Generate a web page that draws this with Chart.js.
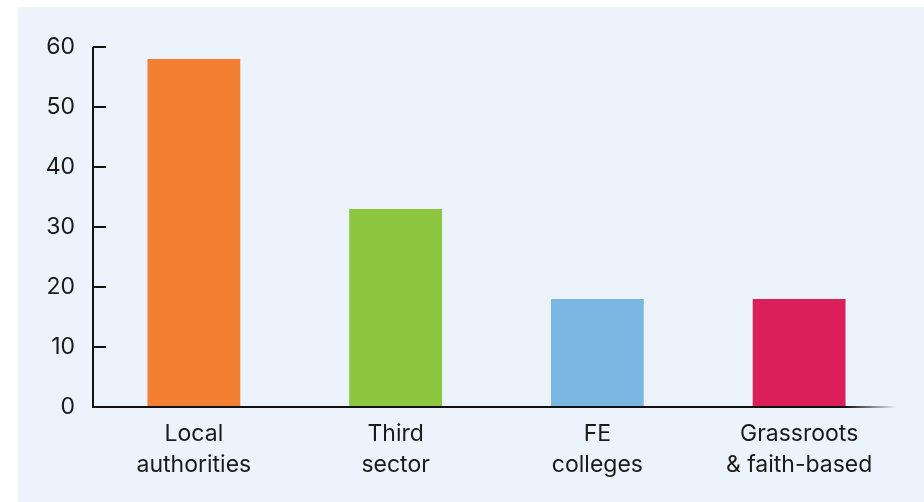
<!DOCTYPE html>
<html>
<head>
<meta charset="utf-8">
<script src="https://cdn.jsdelivr.net/npm/chart.js@4/dist/chart.umd.min.js"></script>
<style>
  html, body { margin: 0; padding: 0; background: #ffffff; }
  #wrap { width: 924px; height: 502px; }
</style>
</head>
<body>
<div id="wrap"><canvas id="chart" width="924" height="502"></canvas></div>
<script>
const categories = [["Local", "authorities"], ["Third", "sector"], ["FE", "colleges"], ["Grassroots", "& faith-based"]];
const values = [58, 33, 18, 18];
const barColors = ["#f37f33", "#8dc63f", "#7ab7e3", "#db1f5b"];
const yTicks = [0, 10, 20, 30, 40, 50, 60];

const panelBg = {
    id: "panelBg",
    beforeDraw(chart) {
        const ctx = chart.ctx;
        ctx.save();
        ctx.fillStyle = "#edf3fb";
        ctx.fillRect(18, 7, chart.width - 18, chart.height - 7);
        ctx.restore();
    }
};

// axis lines with inward ticks, x axis fading out at the right
const axes = {
    id: "axes",
    afterDatasetsDraw(chart) {
        const ctx = chart.ctx;
        const y = chart.scales.y;
        const area = chart.chartArea;
        const x0 = area.left;
        const yZero = y.getPixelForValue(0);
        ctx.save();
        ctx.lineWidth = 2;
        ctx.strokeStyle = "#111111";
        ctx.beginPath();
        ctx.moveTo(x0, y.getPixelForValue(60));
        ctx.lineTo(x0, yZero + 1);
        ctx.stroke();
        yTicks.forEach(v => {
            const py = y.getPixelForValue(v);
            ctx.beginPath();
            ctx.moveTo(x0, py);
            ctx.lineTo(x0 + 13, py);
            ctx.stroke();
        });
        const grad = ctx.createLinearGradient(846, 0, 897, 0);
        grad.addColorStop(0, "rgba(17,17,17,1)");
        grad.addColorStop(1, "rgba(17,17,17,0)");
        ctx.strokeStyle = grad;
        ctx.beginPath();
        ctx.moveTo(x0, yZero);
        ctx.lineTo(897, yZero);
        ctx.stroke();
        ctx.restore();
    }
};

new Chart(document.getElementById("chart").getContext("2d"), {
    type: "bar",
    data: {
        labels: categories,
        datasets: [{
            data: values,
            backgroundColor: barColors,
            borderWidth: 0,
            barPercentage: 0.46,
            categoryPercentage: 1
        }]
    },
    options: {
        responsive: false,
        animation: false,
        layout: { padding: { left: 0, right: 24, top: 47, bottom: 0 } },
        plugins: { legend: { display: false }, tooltip: { enabled: false } },
        scales: {
            x: {
                grid: { display: false },
                border: { display: false },
                ticks: {
                    color: "#1a1a1a",
                    font: { family: "Inter", size: 23, lineHeight: 1.35 },
                    padding: 4,
                    maxRotation: 0
                },
                afterFit(scale) { scale.height = 95; }
            },
            y: {
                min: 0,
                max: 60,
                grid: { display: false },
                border: { display: false },
                ticks: {
                    stepSize: 10,
                    color: "#1a1a1a",
                    font: { family: "Inter", size: 23 },
                    padding: 10
                },
                afterFit(scale) { scale.width = 93; }
            }
        }
    },
    plugins: [panelBg, axes]
});
</script>
</body>
</html>
